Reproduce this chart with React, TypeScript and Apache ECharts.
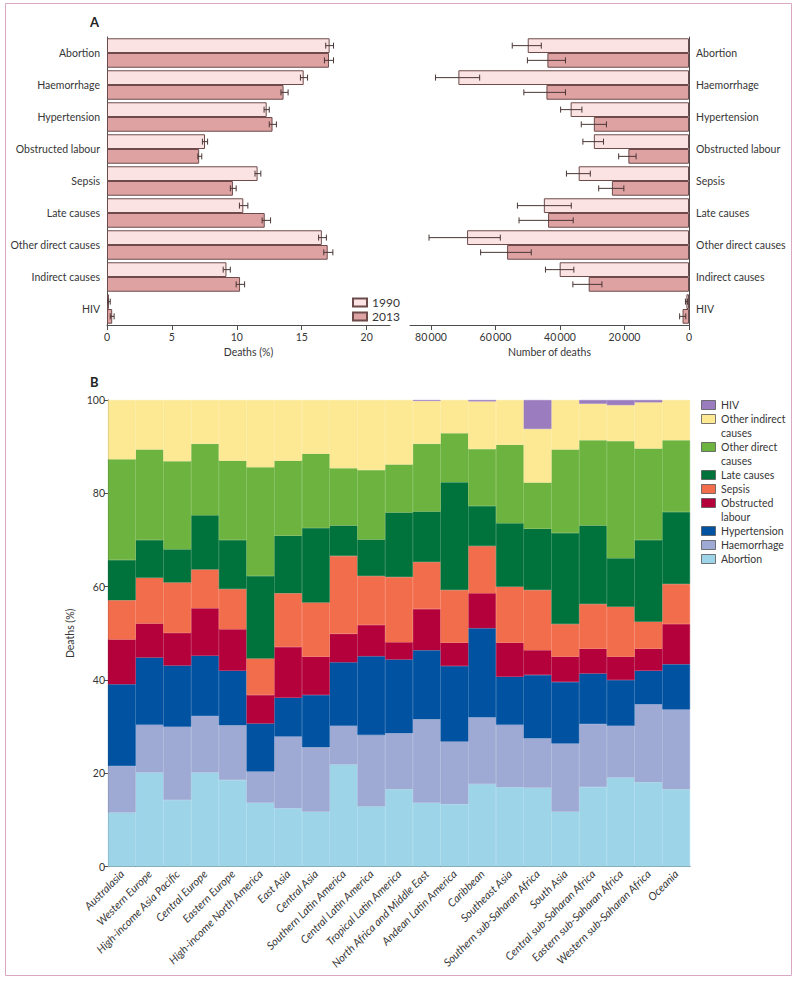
import React, { useEffect, useRef } from 'react';
import * as echarts from 'echarts';

// ---------- Panel A data ----------
const causesA = ['Abortion', 'Haemorrhage', 'Hypertension', 'Obstructed labour', 'Sepsis', 'Late causes', 'Other direct causes', 'Indirect causes', 'HIV'];
const years = ['1990', '2013'];

const pct1990 = [17.15, 15.15, 12.3, 7.55, 11.6, 10.5, 16.55, 9.2, 0.15];
const pct1990Low = [16.85, 14.9, 12.1, 7.35, 11.4, 10.2, 16.3, 8.95, 0.07];
const pct1990High = [17.45, 15.45, 12.5, 7.75, 11.85, 10.85, 16.9, 9.5, 0.25];
const pct2013 = [17.1, 13.6, 12.75, 7.1, 9.7, 12.15, 17.0, 10.25, 0.4];
const pct2013Low = [16.75, 13.4, 12.5, 7.0, 9.5, 11.95, 16.7, 9.95, 0.25];
const pct2013High = [17.45, 13.95, 13.05, 7.3, 9.95, 12.6, 17.4, 10.6, 0.55];

const deaths1990 = [50000, 71500, 36700, 29500, 34200, 45000, 68800, 40100, 800];
const deaths1990Low = [45800, 64900, 33200, 26500, 30600, 36500, 58500, 35700, 500];
const deaths1990High = [54800, 78600, 39800, 32900, 38000, 53200, 80600, 44500, 1100];
const deaths2013 = [43900, 44200, 29500, 18800, 23900, 43700, 56400, 31100, 2000];
const deaths2013Low = [38300, 38300, 25600, 16400, 20200, 35900, 48900, 27000, 1000];
const deaths2013High = [50100, 51200, 33400, 21800, 28000, 52700, 64600, 36000, 2900];

const pctTicks = [0, 5, 10, 15, 20];
const deathTicks = [0, 20000, 40000, 60000, 80000];

// ---------- Panel B data ----------
const regions = ['Australasia', 'Western Europe', 'High-income Asia Pacific', 'Central Europe', 'Eastern Europe', 'High-income North America', 'East Asia', 'Central Asia', 'Southern Latin America', 'Central Latin America', 'Tropical Latin America', 'North Africa and Middle East', 'Andean Latin America', 'Caribbean', 'Southeast Asia', 'Southern sub-Saharan Africa', 'South Asia', 'Central sub-Saharan Africa', 'Eastern sub-Saharan Africa', 'Western sub-Saharan Africa', 'Oceania'];

const abortion = [11.6, 20.2, 14.3, 20.2, 18.6, 13.7, 12.5, 11.8, 21.9, 12.9, 16.6, 13.7, 13.4, 17.7, 17.0, 16.9, 11.8, 17.1, 19.1, 18.1, 16.6];
const haemorrhage = [10.0, 10.2, 15.7, 12.1, 11.7, 6.7, 15.4, 13.8, 8.3, 15.3, 12.0, 17.9, 13.4, 14.3, 13.4, 10.6, 14.6, 13.5, 11.1, 16.7, 17.1];
const hypertension = [17.5, 14.4, 13.1, 12.9, 11.7, 10.3, 8.3, 11.2, 13.6, 16.9, 15.8, 14.8, 16.2, 19.1, 10.3, 13.6, 13.2, 10.8, 9.8, 7.2, 9.7];
const obstructed = [9.6, 7.3, 7.0, 10.2, 8.9, 6.1, 10.9, 8.2, 6.1, 6.7, 3.7, 8.8, 5.0, 7.5, 7.3, 5.3, 5.4, 5.3, 5.0, 4.7, 8.6];
const sepsis = [8.4, 9.8, 10.8, 8.3, 8.6, 7.8, 11.5, 11.6, 16.7, 10.5, 14.0, 10.1, 11.3, 10.1, 12.0, 12.9, 7.0, 9.6, 10.7, 5.8, 8.6];
const late = [8.6, 8.1, 7.1, 11.6, 10.5, 17.7, 12.3, 16.0, 6.5, 7.8, 13.8, 10.8, 23.1, 8.6, 13.6, 13.1, 19.5, 16.8, 10.4, 17.5, 15.4];
const otherDirect = [21.6, 19.4, 18.9, 15.3, 17.0, 23.3, 16.1, 15.9, 12.3, 14.9, 10.3, 14.5, 10.5, 12.2, 16.8, 9.9, 17.9, 18.3, 25.1, 19.6, 15.4];
const otherIndirect = [12.7, 10.6, 13.1, 9.4, 13.0, 14.4, 13.0, 11.5, 14.6, 15.0, 13.8, 9.2, 7.1, 10.2, 9.6, 11.5, 10.6, 7.8, 7.7, 9.9, 8.6];
const hiv = [0, 0, 0, 0, 0, 0, 0, 0, 0, 0, 0, 0.2, 0, 0.3, 0, 6.2, 0, 0.8, 1.1, 0.5, 0];

const stackNames = ['Abortion', 'Haemorrhage', 'Hypertension', 'Obstructed labour', 'Sepsis', 'Late causes', 'Other direct causes', 'Other indirect causes', 'HIV'];
const stackData = [abortion, haemorrhage, hypertension, obstructed, sepsis, late, otherDirect, otherIndirect, hiv];
const stackColors = ['#9dd4e8', '#9eaad4', '#0152a1', '#b4003b', '#f26d4c', '#00723b', '#6cb33f', '#fde893', '#9a7cbf'];
const legendLinesB = [['HIV'], ['Other indirect', 'causes'], ['Other direct', 'causes'], ['Late causes'], ['Sepsis'], ['Obstructed', 'labour'], ['Hypertension'], ['Haemorrhage'], ['Abortion']];
const legendOrderB = [8, 7, 6, 5, 4, 3, 2, 1, 0];

const FONT = 'Lato, "Open Sans", sans-serif';
const TXT = '#363636';
const AX = '#4d4d4d';
const C1990 = '#fbe3e3';
const C2013 = '#dfa2a2';
const BORDER = '#6d4b4b';

const makeErr = (sign: number) => (params: any, api: any) => {
  const c = api.value(0);
  const lo = api.coord([api.value(1), c]);
  const hi = api.coord([api.value(2), c]);
  const band = api.size([0, 1])[1];
  const y = lo[1] + sign * band * 0.23;
  const style = { stroke: '#4a3636', lineWidth: 1 };
  return {
    type: 'group',
    children: [
      { type: 'line', shape: { x1: lo[0], y1: y, x2: hi[0], y2: y }, style },
      { type: 'line', shape: { x1: lo[0], y1: y - 3, x2: lo[0], y2: y + 3 }, style },
      { type: 'line', shape: { x1: hi[0], y1: y - 3, x2: hi[0], y2: y + 3 }, style },
    ],
  };
};

const fmtThousands = (v: number) => {
  if (v < 10000) return String(v);
  const s = String(v);
  return s.slice(0, s.length - 3) + '\u2009' + s.slice(s.length - 3);
};

export default function App() {
  const ref = useRef<HTMLDivElement>(null);
  useEffect(() => {
    if (!ref.current) return;
    const chart = echarts.init(ref.current, undefined, { renderer: 'svg' });

    const catAxisCommon = {
      type: 'category',
      data: causesA,
      inverse: true,
      axisLine: { lineStyle: { color: AX, width: 1 } },
      axisTick: { lineStyle: { color: AX }, length: 5 },
      axisLabel: { color: TXT, fontSize: 10.5, fontFamily: FONT, margin: 7 },
    };

    const legendGraphics: any[] = [];
    let yy = 405;
    legendOrderB.forEach((idx, k) => {
      const lines = legendLinesB[k];
      legendGraphics.push({
        type: 'rect',
        shape: { x: 701.5, y: yy - 4.5, width: 14, height: 9 },
        style: { fill: stackColors[idx], stroke: '#555', lineWidth: 0.8 },
      });
      lines.forEach((ln, j) => {
        legendGraphics.push({
          type: 'text',
          x: 721,
          y: yy + j * 14,
          style: { text: ln, fill: TXT, font: `10.5px ${FONT}`, verticalAlign: 'middle', align: 'left' },
        });
      });
      yy += lines.length * 14;
    });

    const option: any = {
      animation: false,
      textStyle: { fontFamily: FONT },
      grid: [
        { left: 107, top: 37, width: 283, height: 288 },
        { left: 410, top: 37, width: 279, height: 288 },
        { left: 108, top: 400, width: 582, height: 466.7 },
      ],
      legend: {
        data: years,
        left: 347,
        top: 291,
        orient: 'vertical',
        icon: 'rect',
        itemWidth: 14,
        itemHeight: 8,
        itemGap: 1,
        textStyle: { color: TXT, fontSize: 12, lineHeight: 13, fontFamily: FONT },
        selectedMode: false,
      },
      xAxis: [
        {
          type: 'value', gridIndex: 0, min: 0, max: 21.8,
          name: 'Deaths (%)', nameLocation: 'middle', nameGap: 21,
          nameTextStyle: { color: TXT, fontSize: 10.5, fontFamily: FONT },
          axisLine: { show: true, lineStyle: { color: AX } },
          axisTick: { show: true, length: 5, lineStyle: { color: AX }, customValues: pctTicks },
          axisLabel: { color: TXT, fontSize: 10.5, fontFamily: FONT, margin: 6, customValues: pctTicks },
          splitLine: { show: false },
        },
        {
          type: 'value', gridIndex: 1, min: 0, max: 86500, inverse: true,
          name: 'Number of deaths', nameLocation: 'middle', nameGap: 21,
          nameTextStyle: { color: TXT, fontSize: 10.5, fontFamily: FONT },
          axisLine: { show: true, lineStyle: { color: AX } },
          axisTick: { show: true, length: 5, lineStyle: { color: AX }, customValues: deathTicks },
          axisLabel: { color: TXT, fontSize: 10.5, fontFamily: FONT, margin: 6, customValues: deathTicks, formatter: (v: number) => fmtThousands(v) },
          splitLine: { show: false },
        },
        {
          type: 'category', gridIndex: 2, data: regions,
          axisLine: { lineStyle: { color: AX } },
          axisTick: { length: 4, lineStyle: { color: AX } },
          axisLabel: { interval: 0, rotate: 45, color: TXT, fontSize: 11, fontStyle: 'italic', fontFamily: FONT, margin: 5 },
        },
      ],
      yAxis: [
        { ...catAxisCommon, gridIndex: 0, position: 'left' },
        { ...catAxisCommon, gridIndex: 1, position: 'right' },
        {
          type: 'value', gridIndex: 2, min: 0, max: 100, interval: 20,
          name: 'Deaths (%)', nameLocation: 'middle', nameGap: 31,
          nameTextStyle: { color: TXT, fontSize: 10.5, fontFamily: FONT },
          axisLine: { show: true, lineStyle: { color: AX } },
          axisTick: { show: true, length: 4, lineStyle: { color: AX } },
          axisLabel: { color: TXT, fontSize: 10.5, fontFamily: FONT, margin: 3 },
          splitLine: { show: false },
        },
      ],
      series: [
        {
          name: '1990', type: 'bar', xAxisIndex: 0, yAxisIndex: 0, data: pct1990,
          barGap: '0%', barCategoryGap: '8%',
          itemStyle: { color: C1990, borderColor: BORDER, borderWidth: 1 },
        },
        {
          name: '2013', type: 'bar', xAxisIndex: 0, yAxisIndex: 0, data: pct2013,
          barGap: '0%', barCategoryGap: '8%',
          itemStyle: { color: C2013, borderColor: BORDER, borderWidth: 1 },
        },
        {
          name: '1990', type: 'bar', xAxisIndex: 1, yAxisIndex: 1, data: deaths1990,
          barGap: '0%', barCategoryGap: '8%',
          itemStyle: { color: C1990, borderColor: BORDER, borderWidth: 1 },
        },
        {
          name: '2013', type: 'bar', xAxisIndex: 1, yAxisIndex: 1, data: deaths2013,
          barGap: '0%', barCategoryGap: '8%',
          itemStyle: { color: C2013, borderColor: BORDER, borderWidth: 1 },
        },
        {
          name: 'err1990pct', type: 'custom', xAxisIndex: 0, yAxisIndex: 0,
          renderItem: makeErr(-1), encode: { x: [1, 2], y: 0 },
          data: causesA.map((_, i) => [i, pct1990Low[i], pct1990High[i]]), z: 5,
        },
        {
          name: 'err2013pct', type: 'custom', xAxisIndex: 0, yAxisIndex: 0,
          renderItem: makeErr(1), encode: { x: [1, 2], y: 0 },
          data: causesA.map((_, i) => [i, pct2013Low[i], pct2013High[i]]), z: 5,
        },
        {
          name: 'err1990n', type: 'custom', xAxisIndex: 1, yAxisIndex: 1,
          renderItem: makeErr(-1), encode: { x: [1, 2], y: 0 },
          data: causesA.map((_, i) => [i, deaths1990Low[i], deaths1990High[i]]), z: 5,
        },
        {
          name: 'err2013n', type: 'custom', xAxisIndex: 1, yAxisIndex: 1,
          renderItem: makeErr(1), encode: { x: [1, 2], y: 0 },
          data: causesA.map((_, i) => [i, deaths2013Low[i], deaths2013High[i]]), z: 5,
        },
        ...stackNames.map((nm, i) => ({
          name: nm, type: 'bar', stack: 'b', xAxisIndex: 2, yAxisIndex: 2,
          data: stackData[i].map((v) => (v === 0 ? null : v)), barCategoryGap: '0%',
          itemStyle: { color: stackColors[i], borderColor: stackColors[i], borderWidth: 0.5 },
        })),
      ],
      graphic: [
        {
          type: 'rect', silent: true,
          shape: { x: 5.5, y: 3.5, width: 786, height: 972 },
          style: { fill: 'none', stroke: '#d9a9c3', lineWidth: 1 },
        },
        { type: 'text', x: 90, y: 15, style: { text: 'A', fill: '#222', font: `bold 13px ${FONT}` } },
        { type: 'text', x: 90, y: 375, style: { text: 'B', fill: '#222', font: `bold 13px ${FONT}` } },
        ...legendGraphics,
      ],
    };
    chart.setOption(option);
    return () => chart.dispose();
  }, []);
  return <div ref={ref} style={{ position: 'fixed', left: 0, top: 0, width: 800, height: 985, background: '#fff' }} />;
}
